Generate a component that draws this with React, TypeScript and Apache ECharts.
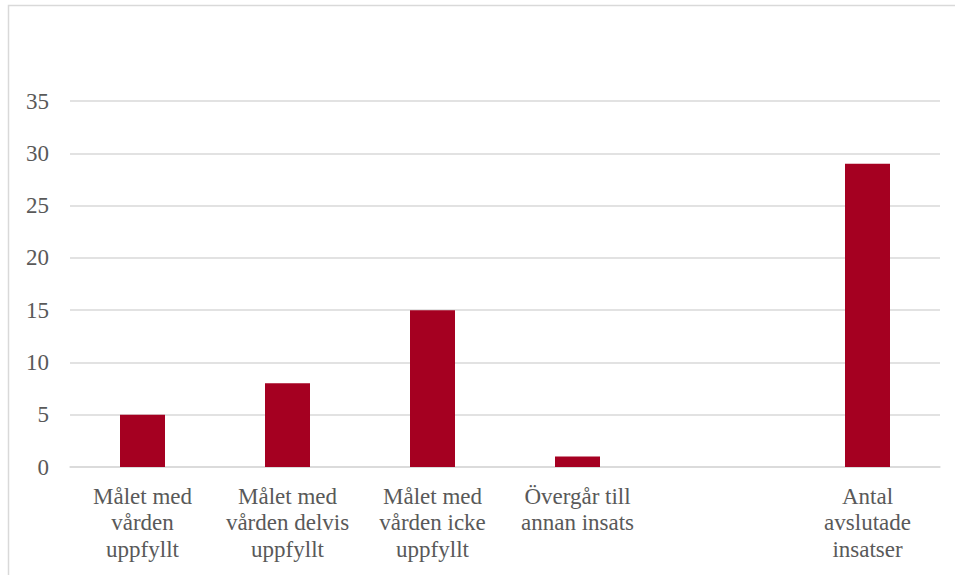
import React, { useEffect, useRef } from "react";
import * as echarts from "echarts";

const categories = [
  "Målet med\nvården\nuppfyllt",
  "Målet med\nvården delvis\nuppfyllt",
  "Målet med\nvården icke\nuppfyllt",
  "Övergår till\nannan insats",
  "",
  "Antal\navslutade\ninsatser",
];
const values: (number | null)[] = [5, 8, 15, 1, null, 29];
const yTicks = { min: 0, max: 35, interval: 5 };

const FONT = "Liberation Serif";

export default function App() {
  const ref = useRef<HTMLDivElement>(null);
  useEffect(() => {
    if (!ref.current) return;
    const chart = echarts.init(ref.current, null, { renderer: "svg" });
    chart.setOption({
      animation: false,
      textStyle: { fontFamily: FONT },
      graphic: [
        {
          type: "rect",
          shape: { x: 8.5, y: 5.5, width: 960, height: 600 },
          style: { fill: "none", stroke: "#d9d9d9", lineWidth: 1.5 },
          silent: true,
        },
      ],
      grid: { left: 70, right: 15, top: 101, bottom: 108, containLabel: false },
      xAxis: {
        type: "category",
        data: categories,
        axisLine: { lineStyle: { color: "#d9d9d9", width: 1.5 } },
        axisTick: { show: false },
        axisLabel: {
          interval: 0,
          margin: 16,
          fontFamily: FONT,
          fontSize: 23,
          lineHeight: 26.5,
          color: "#595959",
        },
      },
      yAxis: {
        type: "value",
        min: yTicks.min,
        max: yTicks.max,
        interval: yTicks.interval,
        axisLine: { show: false },
        axisTick: { show: false },
        splitLine: { lineStyle: { color: "#d9d9d9", width: 1.5 } },
        axisLabel: {
          margin: 21,
          fontFamily: FONT,
          fontSize: 23,
          color: "#595959",
        },
      },
      series: [
        {
          type: "bar",
          data: values,
          barWidth: 45,
          itemStyle: { color: "#A50021" },
        },
      ],
    });
    return () => chart.dispose();
  }, []);
  return (
    <div
      ref={ref}
      style={{ position: "fixed", left: 0, top: 0, width: 955, height: 575, background: "#fff" }}
    />
  );
}
